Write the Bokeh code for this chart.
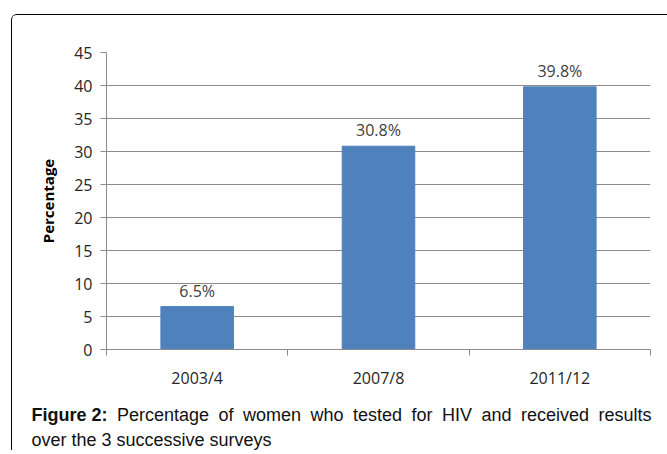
from bokeh.plotting import figure
from bokeh.layouts import column
from bokeh.models import (FactorRange, Range1d, LinearAxis, CategoricalAxis, FixedTicker,
                          Label, ColumnDataSource)
from bokeh.embed import file_html
from bokeh.resources import INLINE
from bokeh.core.properties import value

categories = ["2003/4", "2007/8", "2011/12"]
percentages = [6.5, 30.8, 39.8]
value_labels = ["6.5%", "30.8%", "39.8%"]
y_ticks = [0, 5, 10, 15, 20, 25, 30, 35, 40, 45]
caption_bold = "Figure 2:"
caption_line1 = "Percentage of women who tested for HIV and received results"
caption_line2 = "over the 3 successive surveys"

# page geometry: box corner at (11, 14); contents start 1px inside the border
OX, OY = 12, 15
PAGE_W = 667
W = PAGE_W - OX
H1 = 395 - OY
H2 = 55

p = figure(width=W, height=H1, output_backend="svg", toolbar_location=None,
           x_range=FactorRange(*categories, range_padding=0, factor_padding=0), y_range=Range1d(0, 45),
           x_axis_location=None, y_axis_location="left",
           min_border_left=106 - OX, min_border_right=PAGE_W - 650, min_border_top=52 - OY,
           min_border_bottom=(OY + H1) - 349)
p.frame_align = False
p.outline_line_color = None
p.background_fill_color = "white"
p.border_fill_color = "white"

src = ColumnDataSource(dict(x=categories, y=percentages, lab=value_labels))
p.vbar(x="x", top="y", width=0.4, source=src, fill_color="#4F81BD", line_color="#4F81BD", line_width=1)
p.text(x="x", y="y", text="lab", source=src, text_align="center", text_baseline="bottom",
       y_offset=-5, text_font=value("Open Sans"), text_font_size="16px", text_color="#404040")

grid_color = "#8C8C8C"
p.xgrid.visible = False
p.ygrid.grid_line_color = grid_color
p.ygrid.ticker = FixedTicker(ticks=y_ticks)

ya = p.yaxis[0]
ya.ticker = FixedTicker(ticks=y_ticks)
ya.axis_line_color = grid_color
ya.major_tick_line_color = grid_color
ya.major_tick_out = 6
ya.major_tick_in = 0
ya.minor_tick_line_color = None
ya.major_label_text_font = "Open Sans"
ya.major_label_text_font_size = "16px"
ya.major_label_text_color = "#262626"
ya.major_label_standoff = 8
ya.axis_label = "Percentage"
ya.axis_label_text_font = "Open Sans"
ya.axis_label_text_font_style = "bold"
ya.axis_label_text_font_size = "15px"
ya.axis_label_text_color = "#000000"
ya.axis_label_standoff = 13

# category boundary ticks (synthetic categorical coordinates 0..n) drawn as label-less minor ticks
tick_axis = LinearAxis(ticker=FixedTicker(ticks=[], minor_ticks=list(range(len(categories) + 1))),
                       axis_line_color=grid_color, major_tick_line_color=None,
                       minor_tick_line_color=grid_color, minor_tick_out=6, minor_tick_in=0,
                       major_tick_out=6, major_label_standoff=0)
p.add_layout(tick_axis, "below")
cat_axis = CategoricalAxis(axis_line_color=None, major_tick_line_color=None,
                           major_label_text_font="Open Sans", major_label_text_font_size="16px",
                           major_label_text_color="#262626", major_label_standoff=5)
p.add_layout(cat_axis, "below")

# caption figure: pixel-like data coordinates (y grows downward), frame = whole canvas
cap = figure(width=W, height=H2, output_backend="svg", toolbar_location=None,
             x_range=Range1d(0, W), y_range=Range1d(H2, 0),
             x_axis_location=None, y_axis_location=None,
             min_border=0, min_border_left=0, min_border_right=0, min_border_top=0, min_border_bottom=0)
cap.frame_align = False
cap.outline_line_color = None
cap.xgrid.visible = False
cap.ygrid.visible = False
cap.background_fill_color = "white"
cap.border_fill_color = "white"

# Arial-metric widths (per 1000 em) used to justify the first caption line
REG = dict(a=556, c=500, d=556, e=556, f=278, g=556, h=556, i=222, l=222, m=833, n=556, o=556,
           r=333, s=500, t=278, u=556, v=500, w=722, y=500, P=667, H=722, I=278, V=667)
BOLD = {"F": 611, "i": 278, "g": 611, "u": 611, "r": 389, "e": 556, " ": 278, "2": 556, ":": 333}

def width(s, size, table):
    return sum(table.get(ch, 556) for ch in s) * size / 1000.0

FS = 18
cap_font = "Liberation Sans"
left_x, right_x = 31 - OX, 651 - OX
base1, base2 = 414 - (OY + H1), 439 - (OY + H1)
words = [(caption_bold, True)] + [(w_, False) for w_ in caption_line1.split()]
widths = [width(w_, FS, BOLD if b else REG) for w_, b in words]
gap = (right_x - left_x - sum(widths)) / (len(words) - 1)
x = left_x
for (w_, b), wd in zip(words, widths):
    cap.add_layout(Label(x=x, y=base1, text=w_,
                         text_font=cap_font, text_font_style="bold" if b else "normal",
                         text_font_size=f"{FS}px", text_color="#111111", text_baseline="alphabetic"))
    x += wd + gap
cap.add_layout(Label(x=left_x, y=base2, text=caption_line2,
                     text_font=cap_font, text_font_size=f"{FS}px",
                     text_color="#111111", text_baseline="alphabetic"))

layout = column(p, cap, spacing=0, margin=(OY - 1, 0, 0, OX - 1),
                styles={"border-left": "1px solid #000", "border-top": "1px solid #000",
                        "border-top-left-radius": "6px"})

open("out.html", "w").write(file_html(layout, INLINE))
